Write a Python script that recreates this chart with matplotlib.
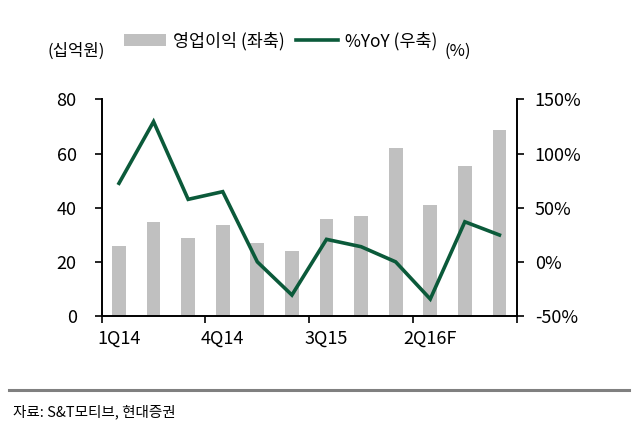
import matplotlib
matplotlib.use('Agg')
import matplotlib.pyplot as plt
import numpy as np

plt.rcParams['font.family'] = ['Noto Sans CJK KR', 'DejaVu Sans']

# data
quarters = ['1Q14', '2Q14', '3Q14', '4Q14', '1Q15', '2Q15', '3Q15', '4Q15',
            '1Q16', '2Q16F', '3Q16F', '4Q16F']
op_profit = [26.0, 34.8, 28.9, 33.5, 26.8, 24.0, 35.7, 37.0, 62.0, 40.9, 55.4, 68.7]
yoy = [72.5, 129.4, 57.7, 64.8, 0.0, -30.6, 20.8, 14.0, 0.0, -34.3, 37.0, 24.8]
left_ticks = [0, 20, 40, 60, 80]
right_ticks = [-50, 0, 50, 100, 150]

fig = plt.figure(figsize=(6.38, 4.30), dpi=100)
ax = fig.add_axes([0.1594, 0.265, 0.6505, 0.504])
ax2 = ax.twinx()

x = np.arange(len(quarters))
bars = ax.bar(x, op_profit, width=0.4, color='#c0c0c0', zorder=1)
line, = ax2.plot(x, yoy, color='#0b5a3a', lw=2.6, solid_joinstyle='miter')

ax.set_xlim(-0.5, len(quarters) - 0.5)
ax.set_ylim(0, 80)
ax2.set_ylim(-50, 150)
ax.set_yticks(left_ticks)
ax2.set_yticks(right_ticks)
ax2.set_yticklabels([f'{v}%' for v in right_ticks])

# tick marks at group boundaries, labels every third quarter
ax.set_xticks(np.arange(-0.5, len(quarters), 3))
ax.set_xticklabels([])
ax.set_xticks(x[::3], minor=True)
ax.set_xticklabels([quarters[i] for i in x[::3]], minor=True)
ax.tick_params(axis='x', which='minor', length=0, pad=10, labelsize=13)
ax.tick_params(axis='x', which='major', length=5, width=1.2)

for a in (ax, ax2):
    a.spines['top'].set_visible(False)
    for s in ('left', 'right', 'bottom'):
        a.spines[s].set_linewidth(1.4)
    a.tick_params(axis='y', length=5, width=1.2, labelsize=13, colors='black')
ax.tick_params(axis='y', pad=13)
ax2.tick_params(axis='y', pad=8)
ax.spines['right'].set_visible(False)
ax2.spines['left'].set_visible(False)
ax2.spines['bottom'].set_visible(False)

ax.set_zorder(ax2.get_zorder() - 1)
ax2.patch.set_visible(False)

# units and legend
fig.text(0.075, 0.88, '(십억원)', fontsize=12, ha='left', va='center')
fig.text(0.697, 0.88, '(%)', fontsize=12, ha='left', va='center')
fig.legend([bars, line], ['영업이익 (좌축)', '%YoY (우축)'], loc='center',
           bbox_to_anchor=(0.44, 0.905), ncol=2, frameon=False, fontsize=12.5,
           handlelength=2.4, handletextpad=0.4, columnspacing=0.7)

# footer
fig.add_artist(plt.Line2D([0.014, 0.986], [0.093, 0.093], color='#808080', lw=2.2))
fig.text(0.02, 0.043, '자료: S&T모티브, 현대증권', fontsize=10.5, style='italic',
         ha='left', va='center')

fig.savefig('out.png', dpi=100)
